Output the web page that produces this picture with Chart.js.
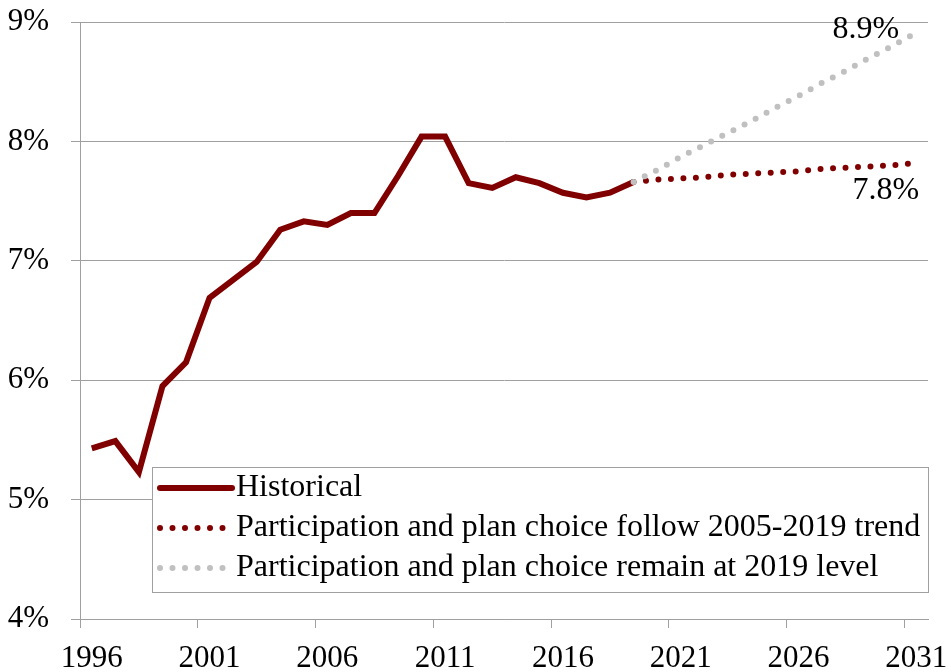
<!DOCTYPE html>
<html>
<head>
<meta charset="utf-8">
<script src="https://cdn.jsdelivr.net/npm/chart.js@4"></script>
<style>
  html, body { margin: 0; padding: 0; background: #fff; }
</style>
</head>
<body>
<canvas id="chart" width="947" height="672"></canvas>
<script>
  // years on the category axis
  const years = ['1996', '1997', '1998', '1999', '2000', '2001', '2002', '2003', '2004', '2005',
    '2006', '2007', '2008', '2009', '2010', '2011', '2012', '2013', '2014', '2015',
    '2016', '2017', '2018', '2019', '2020', '2021', '2022', '2023', '2024', '2025',
    '2026', '2027', '2028', '2029', '2030', '2031'];

  // 1996-2019
  const historical = [5.43, 5.49, 5.23, 5.95, 6.15, 6.69, 6.84, 6.99, 7.26, 7.33,
    7.30, 7.40, 7.40, 7.71, 8.04, 8.04, 7.65, 7.61, 7.70, 7.65,
    7.57, 7.53, 7.57, 7.66];

  // 2019-2031
  const trend = [7.66, 7.68, 7.69, 7.70, 7.72, 7.73, 7.74, 7.75, 7.77, 7.78, 7.79, 7.80, 7.82];
  const remain = [7.66, 7.76, 7.87, 7.97, 8.07, 8.17, 8.28, 8.38, 8.49, 8.59, 8.70, 8.80, 8.91];

  const yTicks = [4, 5, 6, 7, 8, 9];

  const labelHist = 'Historical';
  const labelTrend = 'Participation and plan choice follow 2005-2019 trend';
  const labelRemain = 'Participation and plan choice remain at 2019 level';

  const FONT = '"Liberation Serif", "Times New Roman", serif';
  const GRID = '#a0a0a0';
  const RED = '#800000';
  const GREY = '#c0c0c0';

  const pad = (arr, before) => {
    const out = [];
    for (let i = 0; i < before; i++) out.push(null);
    arr.forEach(v => out.push(v));
    while (out.length < years.length) out.push(null);
    return out;
  };
  const startProj = years.indexOf('2019');

  // 마지막 값 라벨
  const endLabels = {
    id: 'endLabels',
    afterDatasetsDraw(chart) {
      const ctx = chart.ctx;
      ctx.save();
      ctx.font = '32px ' + FONT;
      ctx.fillStyle = '#000';
      ctx.textAlign = 'right';
      ctx.textBaseline = 'middle';
      const last = years.length - 1;
      const pR = chart.getDatasetMeta(0).data[last];
      const pT = chart.getDatasetMeta(1).data[last];
      ctx.fillText(remain[remain.length - 1].toFixed(1) + '%', pR.x - 17, pR.y - 3);
      ctx.fillText(trend[trend.length - 1].toFixed(1) + '%', pT.x + 3, pT.y + 28);
      ctx.restore();
    }
  };

  // legend box inside the plot
  const boxLegend = {
    id: 'boxLegend',
    afterDraw(chart) {
      const ctx = chart.ctx;
      ctx.save();
      ctx.fillStyle = '#fff';
      ctx.fillRect(152, 467, 777, 126);
      ctx.strokeStyle = GRID;
      ctx.lineWidth = 1;
      ctx.strokeRect(152.5, 467.5, 776, 125);

      const items = [
        { text: labelHist, color: RED, dash: [], y: 488, x2: 232 },
        { text: labelTrend, color: RED, dash: [0, 12.5], y: 528, x2: 226 },
        { text: labelRemain, color: GREY, dash: [0, 12.5], y: 568, x2: 226 }
      ];
      items.forEach(it => {
        ctx.beginPath();
        ctx.setLineDash(it.dash);
        ctx.lineCap = 'round';
        ctx.lineWidth = 6;
        ctx.strokeStyle = it.color;
        ctx.moveTo(160, it.y);
        ctx.lineTo(it.x2, it.y);
        ctx.stroke();
        ctx.setLineDash([]);
        ctx.font = '32px ' + FONT;
        ctx.fillStyle = '#000';
        ctx.textAlign = 'left';
        ctx.textBaseline = 'middle';
        ctx.fillText(it.text, 236, it.y);
      });
      ctx.restore();
    }
  };

  const ctx = document.getElementById('chart').getContext('2d');
  new Chart(ctx, {
    type: 'line',
    data: {
      labels: years,
      datasets: [
        {
          label: labelRemain,
          data: pad(remain, startProj),
          borderColor: GREY,
          borderWidth: 6,
          borderDash: [0, 12.5],
          borderCapStyle: 'round',
          pointRadius: 0,
          tension: 0,
          order: 0
        },
        {
          label: labelTrend,
          data: pad(trend, startProj),
          borderColor: RED,
          borderWidth: 6,
          borderDash: [0, 12.5],
          borderCapStyle: 'round',
          pointRadius: 0,
          tension: 0,
          order: 2
        },
        {
          label: labelHist,
          data: pad(historical, 0),
          borderColor: RED,
          borderWidth: 6,
          borderJoinStyle: 'miter',
          pointRadius: 0,
          tension: 0,
          order: 1
        }
      ]
    },
    options: {
      responsive: false,
      animation: false,
      layout: { padding: { top: 22, right: 19, left: 0, bottom: 0 } },
      plugins: {
        legend: { display: false },
        tooltip: { enabled: false }
      },
      scales: {
        x: {
          type: 'category',
          offset: true,
          afterFit(s) {
            s.height = 53;
            s.paddingLeft = 0;
            s.paddingRight = 0;
          },
          border: { color: GRID, width: 1 },
          grid: {
            offset: true,
            drawOnChartArea: false,
            drawTicks: true,
            tickLength: 9,
            color: c => (c.index % 5 === 0 ? GRID : 'rgba(0,0,0,0)')
          },
          ticks: {
            autoSkip: false,
            maxRotation: 0,
            padding: 12,
            color: '#000',
            font: { family: FONT, size: 31 },
            callback: function (val, i) { return i % 5 === 0 ? this.getLabelForValue(val) : ''; }
          }
        },
        y: {
          min: 4,
          max: 9,
          afterFit(s) {
            s.width = 80;
            s.paddingTop = 0;
            s.paddingBottom = 0;
          },
          afterBuildTicks(s) { s.ticks = yTicks.map(v => ({ value: v })); },
          border: { color: GRID, width: 1 },
          grid: { color: GRID, lineWidth: 1, tickLength: 9 },
          ticks: {
            padding: 22,
            color: '#000',
            font: { family: FONT, size: 31 },
            callback: v => v + '%'
          }
        }
      }
    },
    plugins: [endLabels, boxLegend]
  });
</script>
</body>
</html>
